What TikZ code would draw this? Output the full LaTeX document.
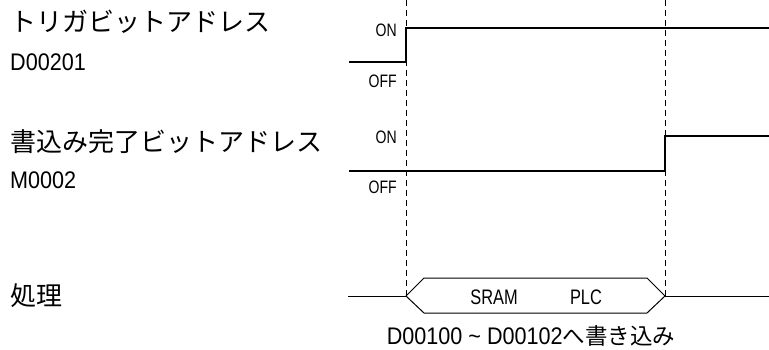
\documentclass[tikz,border=0pt]{standalone}
\usepackage{fontspec}
\setmainfont{Liberation Sans}[FakeStretch=0.9]
\newfontfamily\narrowfont{Liberation Sans}[FakeStretch=0.78]
\newfontfamily\jpfont{Noto Sans CJK JP}

\tikzset{
  sigline/.style={line width=1.4pt, black},
  busline/.style={line width=1pt, black},
  guide/.style={line width=0.9pt, dash pattern=on 6pt off 4pt},
  namelabel/.style={anchor=west, inner sep=0pt, font=\jpfont\fontsize{26}{26}\selectfont},
  addrlabel/.style={anchor=west, inner sep=0pt, font=\fontsize{24}{24}\selectfont},
  levellabel/.style={anchor=east, inner sep=0pt, font=\narrowfont\fontsize{18}{18}\selectfont}
}

\begin{document}
\begin{tikzpicture}[x=1pt, y=-1pt]
  \useasboundingbox (0,0) rectangle (769,349);

  % Signal names
  \node[namelabel] (trig)     at (10, 22)  {トリガビットアドレス};
  \node[addrlabel] (trigaddr) at (10, 62)  {D00201};
  \node[namelabel] (done)     at (10, 142) {書込み完了ビットアドレス};
  \node[addrlabel] (doneaddr) at (10, 180) {M0002};
  \node[namelabel] (proc)     at (10, 296) {処理};

  % ON / OFF levels
  \node[levellabel] (on1)  at (397, 30)  {ON};
  \node[levellabel] (off1) at (397, 81)  {OFF};
  \node[levellabel] (on2)  at (397, 137) {ON};
  \node[levellabel] (off2) at (397, 187) {OFF};

  % Dashed guides
  \draw[guide] (406, 0) -- (406, 296);
  \draw[guide] (665, 0) -- (665, 296);

  % Trigger bit
  \draw[sigline] (349, 62) -- (406, 62) -- (406, 28) -- (769, 28);

  % Write-complete bit
  \draw[sigline] (349, 171) -- (665, 171) -- (665, 136) -- (769, 136);

  % Process
  \draw[busline] (348, 296) -- (406, 296);
  \draw[busline] (406, 296) -- (424, 278) -- (647, 278)
    -- (665, 296) -- (647, 313) -- (424, 313) -- cycle;
  \draw[busline] (665, 296) -- (769, 296);

  \node[inner sep=0pt, font=\narrowfont\fontsize{21}{21}\selectfont] (sram) at (494, 297) {SRAM};
  \node[inner sep=0pt, font=\narrowfont\fontsize{21}{21}\selectfont] (plc)  at (586, 297) {PLC};

  \node[inner sep=0pt, font=\fontsize{24}{24}\selectfont] (range) at (531, 336)
    {D00100 \textasciitilde{} D00102{\jpfont\fontsize{22.5}{22.5}\selectfont へ書き込み}};

\end{tikzpicture}
\end{document}
